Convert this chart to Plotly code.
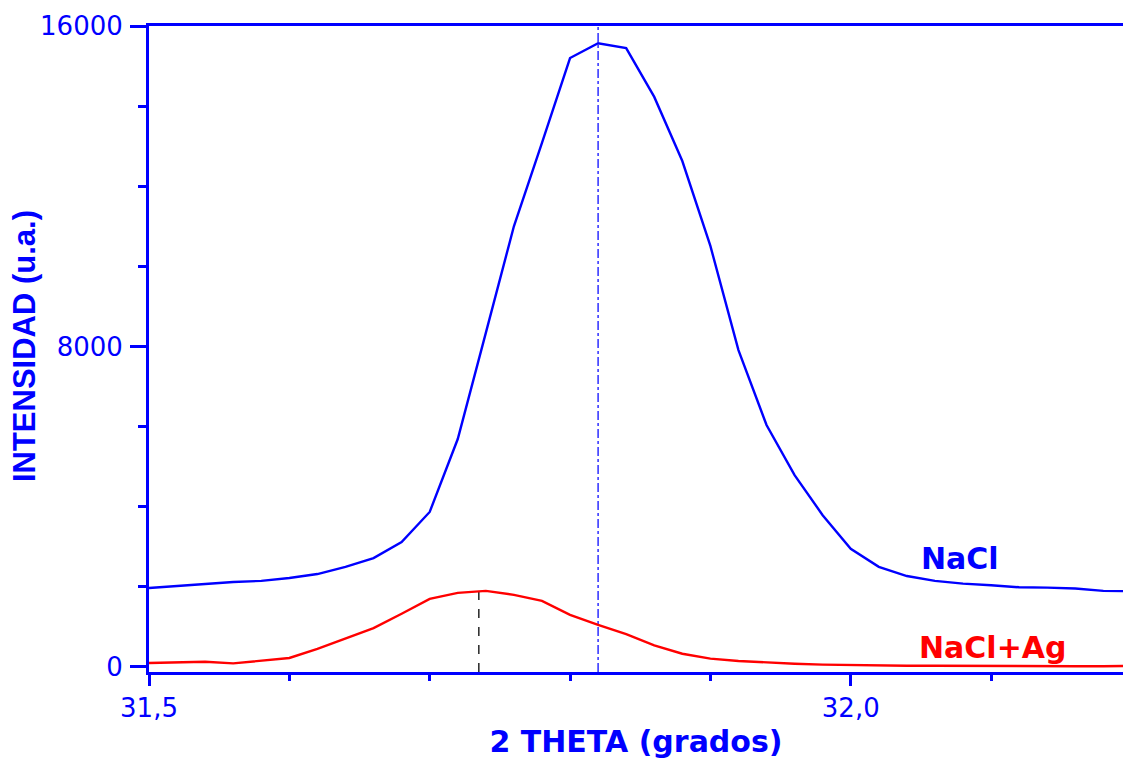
import plotly.graph_objects as go

# 2-theta positions (degrees)
two_theta = [31.50, 31.52, 31.54, 31.56, 31.58, 31.60, 31.62, 31.64, 31.66, 31.68,
             31.70, 31.72, 31.74, 31.76, 31.78, 31.80, 31.82, 31.84, 31.86, 31.88,
             31.90, 31.92, 31.94, 31.96, 31.98, 32.00, 32.02, 32.04, 32.06, 32.08,
             32.10, 32.12, 32.14, 32.16, 32.18, 32.20]

# Diffracted intensity (a.u.)
nacl = [1970, 2020, 2070, 2120, 2150, 2220, 2320, 2500, 2720, 3120,
        3870, 5690, 8340, 11000, 13080, 15200, 15570, 15450, 14230, 12630,
        10510, 7910, 6040, 4790, 3790, 2950, 2500, 2270, 2150, 2080,
        2040, 1990, 1980, 1960, 1900, 1890]

nacl_ag = [100, 110, 130, 90, 150, 225, 450, 720, 970, 1330,
           1700, 1850, 1900, 1800, 1650, 1300, 1050, 820, 540, 330,
           210, 150, 110, 80, 60, 45, 40, 30, 30, 25,
           25, 20, 20, 20, 20, 25]

# Peak positions
nacl_peak_x = 31.82
ag_peak_x = 31.735
ag_peak_y = 1900

x_range = [31.5, 32.194]
y_range = [-125, 16000]
y_ticks = [0, 8000, 16000]
x_ticks = [31.5, 32.0]

BLUE = "#0000FF"
RED = "#FF0000"
TICK_FONT = dict(family="DejaVu Sans", size=26, color=BLUE)
TITLE_FONT = dict(family="DejaVu Sans", size=30, color=BLUE)

fig = go.Figure()

fig.add_trace(go.Scatter(
    x=[nacl_peak_x, nacl_peak_x], y=y_range, mode="lines",
    line=dict(color="#3a3aff", width=1.6, dash="dashdot"),
    showlegend=False, hoverinfo="skip"))
fig.add_trace(go.Scatter(
    x=[ag_peak_x, ag_peak_x], y=[y_range[0], ag_peak_y], mode="lines",
    line=dict(color="#333333", width=1.6, dash="dash"),
    showlegend=False, hoverinfo="skip"))

fig.add_trace(go.Scatter(x=two_theta, y=nacl, mode="lines", name="NaCl",
                         line=dict(color=BLUE, width=2.4)))
fig.add_trace(go.Scatter(x=two_theta, y=nacl_ag, mode="lines", name="NaCl+Ag",
                         line=dict(color=RED, width=2.4)))

fig.add_annotation(x=32.078, y=2700, text="<b>NaCl</b>", showarrow=False,
                   font=dict(family="DejaVu Sans", size=30, color=BLUE),
                   xanchor="center", yanchor="middle")
fig.add_annotation(x=32.101, y=480, text="<b>NaCl+Ag</b>", showarrow=False,
                   font=dict(family="DejaVu Sans", size=30, color=RED),
                   xanchor="center", yanchor="middle")

# y-axis title placed close to the tick labels
fig.add_annotation(xref="paper", yref="paper", x=-0.128, y=0.505,
                   text="<b>INTENSIDAD (u.a.)</b>", textangle=-90,
                   showarrow=False, xanchor="center", yanchor="middle",
                   font=dict(family="Liberation Sans", size=31, color=BLUE))

fig.update_layout(
    width=1123, height=759, autosize=False,
    margin=dict(l=149, r=0, t=26, b=87),
    paper_bgcolor="white", plot_bgcolor="white",
    showlegend=False, separators=",.",
)

fig.update_xaxes(
    range=x_range, showgrid=False, zeroline=False,
    showline=True, linecolor=BLUE, linewidth=3, mirror=True,
    ticks="outside", ticklen=11, tickwidth=3, tickcolor=BLUE,
    tickvals=x_ticks, tickformat=".1f", tickfont=TICK_FONT,
    minor=dict(dtick=0.1, tick0=31.5, ticks="outside", ticklen=6,
               tickwidth=2.5, tickcolor=BLUE, showgrid=False),
    title=dict(text="<b>2 THETA (grados)</b>", font=TITLE_FONT, standoff=10),
    automargin=False,
)

fig.update_yaxes(
    range=y_range, showgrid=False, zeroline=False,
    showline=True, linecolor=BLUE, linewidth=3,
    ticks="outside", ticklen=16, tickwidth=3, tickcolor=BLUE,
    tickvals=y_ticks, tickformat=".0f", tickfont=TICK_FONT, ticklabelstandoff=2,
    minor=dict(dtick=2000, tick0=0, ticks="outside", ticklen=8,
               tickwidth=2.5, tickcolor=BLUE, showgrid=False),
    automargin=False,
)

fig.write_html("out.html")
